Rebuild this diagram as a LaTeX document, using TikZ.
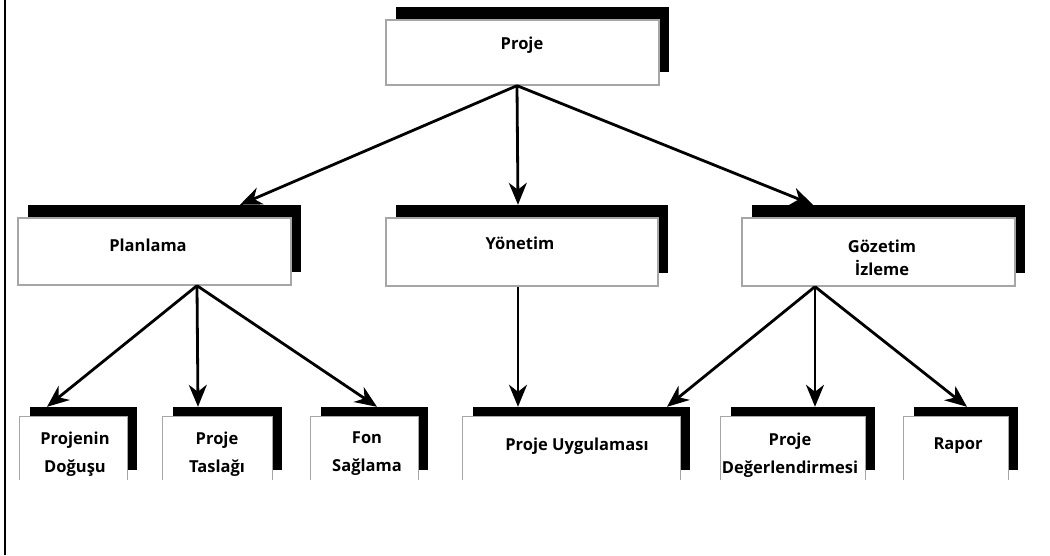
\documentclass[tikz,border=0pt]{standalone}
\usepackage{fontspec}
\setmainfont{Open Sans}
\usetikzlibrary{arrows.meta}
\begin{document}
\begin{tikzpicture}[x=1pt,y=-1pt,
  box/.style={rectangle, draw=gray!70, line width=1.3pt, fill=white, inner sep=0pt},
  leaf/.style={rectangle, draw=none, fill=white, inner sep=0pt, minimum height=63pt},
  edge/.style={draw=gray!70, line width=1.3pt},
  shade/.style={rectangle, fill=black, draw=none, inner sep=0pt},
  lbl/.style={font=\bfseries\fontsize{16.5}{28}\selectfont, align=center, inner sep=0pt},
  link/.style={line width=2.8pt, -{Stealth[length=22pt,width=18pt,inset=7pt]}},
]
\useasboundingbox (0,0) rectangle (1050,555);
\draw[line width=1.5pt] (5,0) -- (5,555);

% top level
\node[shade, minimum width=273pt, minimum height=65pt] (proje-s) at (532.5,39.5) {};
\node[box, minimum width=273pt, minimum height=65pt] (proje) at (522.5,52.5) {};
\node[lbl] (proje-t) at (522,45) {Proje};

% second level
\node[shade, minimum width=273pt, minimum height=67pt] (plan-s) at (164.5,238.5) {};
\node[box, minimum width=273pt, minimum height=67pt] (plan) at (154.5,251.5) {};
\node[lbl] (plan-t) at (148,245) {Planlama};

\node[shade, minimum width=272pt, minimum height=68pt] (yon-s) at (532,239) {};
\node[box, minimum width=272pt, minimum height=68pt] (yon) at (522,252) {};
\node[lbl] (yon-t) at (520,243) {Yönetim};

\node[shade, minimum width=273pt, minimum height=68pt] (goz-s) at (888.5,239) {};
\node[box, minimum width=273pt, minimum height=68pt] (goz) at (878.5,252) {};
\node[lbl, font=\bfseries\fontsize{16.5}{23}\selectfont] (goz-t) at (882,258) {Gözetim\\İzleme};

% third level (boxes open at the bottom)
\foreach \n/\cx/\w in {dog/73.5/107, tas/217.5/109, fon/364.5/107, uyg/571.5/217, deg/793/144, rap/956/104}{
  \node[shade, minimum width=\w pt, minimum height=63pt] (\n-s) at (\cx+10,438.5) {};
  \node[leaf, minimum width=\w pt] (\n) at (\cx,448.5) {};
  \draw[edge] (\n.south west) |- (\n.north east) -- (\n.south east);
}
\node[lbl] (dog-t) at (75,454) {Projenin\\Doğuşu};
\node[lbl] (tas-t) at (217,454) {Proje\\Taslağı};
\node[lbl] (fon-t) at (367,454) {Fon\\Sağlama};
\node[lbl] (uyg-t) at (577,446) {Proje Uygulaması};
\node[lbl] (deg-t) at (790,455) {Proje\\Değerlendirmesi};
\node[lbl] (rap-t) at (958,446) {Rapor};

% connectors
\draw[link] ([xshift=-5.5pt]proje.south) -- ([xshift=75.5pt]plan-s.north);
\draw[link] ([xshift=-5.5pt]proje.south) -- ([xshift=-14pt]yon-s.north);
\draw[link] ([xshift=-5.5pt]proje.south) -- ([xshift=-75.5pt]goz-s.north);

\draw[link] ([xshift=42.5pt]plan.south) -- ([xshift=-36.5pt]dog-s.north);
\draw[link] ([xshift=42.5pt]plan.south) -- ([xshift=-29.5pt]tas-s.north);
\draw[link] ([xshift=42.5pt]plan.south) -- ([xshift=2.5pt]fon-s.north);

\draw[link] ([xshift=-4pt]yon.south) -- ([xshift=-63.5pt]uyg-s.north);

\draw[link] ([xshift=-63.5pt]goz.south) -- ([xshift=85.5pt]uyg-s.north);
\draw[link] ([xshift=-63.5pt]goz.south) -- ([xshift=12pt]deg-s.north);
\draw[link] ([xshift=-63.5pt]goz.south) -- ([xshift=1pt]rap-s.north);
\end{tikzpicture}
\end{document}
